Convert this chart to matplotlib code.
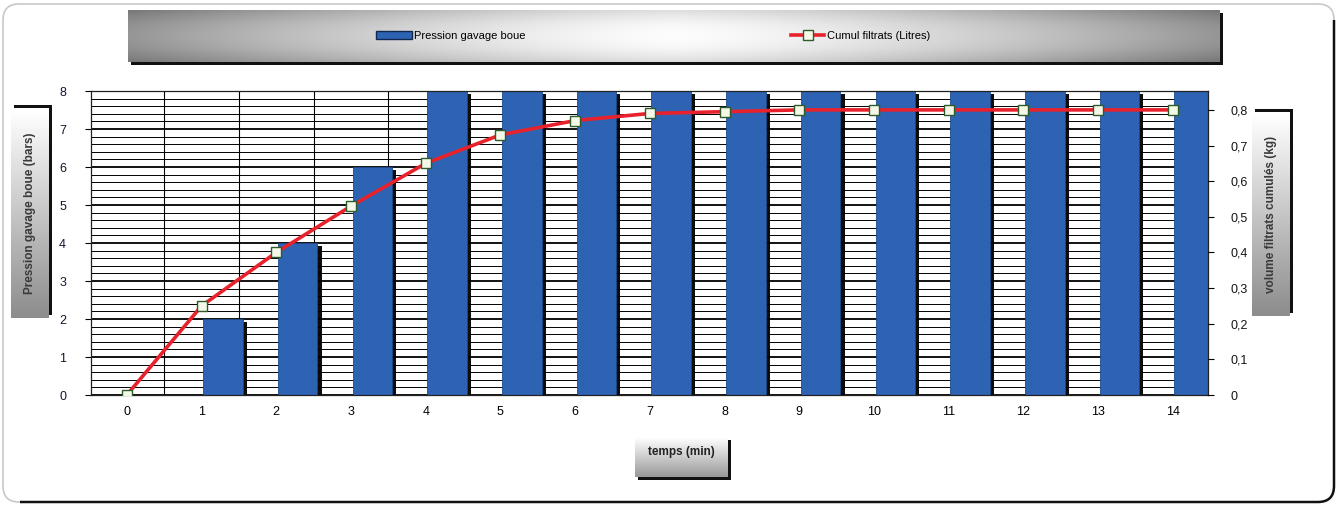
import numpy as np
import matplotlib
matplotlib.use('Agg')
import matplotlib.pyplot as plt
from matplotlib.patches import Rectangle, FancyBboxPatch, Polygon
from matplotlib.lines import Line2D
from matplotlib import patheffects as pe
from matplotlib.ticker import MultipleLocator, FuncFormatter

W, H = 1339, 505

temps = list(range(15))
pression = [0, 2, 4, 6, 8, 8, 8, 8, 8, 8, 8, 8, 8, 8, 8]
cumul = [0, 0.25, 0.40, 0.53, 0.65, 0.73, 0.77, 0.79, 0.795, 0.80,
         0.80, 0.80, 0.80, 0.80, 0.80]

BLUE = '#2e63b4'
RED = '#e8222c'

plt.rcParams['font.family'] = ['Liberation Sans', 'DejaVu Sans']

fig = plt.figure(figsize=(W / 100, H / 100), dpi=100)


def px_rect(x0, y0, x1, y1):
    # pixel box (top-left origin) -> figure fraction
    return [x0 / W, 1 - y1 / H, (x1 - x0) / W, (y1 - y0) / H]


def grad_box(x0, y0, x1, y1, grad, shadow, z=1):
    # shadow first
    dx, dy = shadow
    sh = fig.add_axes(px_rect(x0 + dx, y0 + dy, x1 + dx, y1 + dy), zorder=z)
    sh.set_facecolor('#111111')
    sh.set_xticks([]); sh.set_yticks([])
    for s in sh.spines.values():
        s.set_visible(False)
    b = fig.add_axes(px_rect(x0, y0, x1, y1), zorder=z + 0.1)
    b.imshow(grad, cmap='gray', vmin=0, vmax=1, aspect='auto',
             interpolation='bicubic', extent=[0, 1, 0, 1])
    b.set_xlim(0, 1); b.set_ylim(0, 1)
    b.axis('off')
    return b


# outer rounded frame: faint all round, dark on the right and bottom
box_args = dict(boxstyle='round,pad=0,rounding_size=0.16',
                transform=fig.dpi_scale_trans, fill=False)
frame = FancyBboxPatch((3 / 100, 3 / 100), (W - 8) / 100, (H - 7) / 100,
                       edgecolor='#c8c8c8', linewidth=1.2, **box_args)
fig.patches.append(frame)
frame2 = FancyBboxPatch((3 / 100, 3 / 100), (W - 8) / 100, (H - 7) / 100,
                        edgecolor='#111111', linewidth=1.8, **box_args)
clip = Polygon([(0, 0), (W / 100, 0), (W / 100, (H - 20) / 100),
                ((W - 12) / 100, (H - 20) / 100), ((W - 12) / 100, 0.12),
                (0.2, 0.12), (0.2, 0)], transform=fig.dpi_scale_trans)
frame2.set_clip_path(clip)
fig.patches.append(frame2)

# legend bar
gx = np.linspace(-1, 1, 200)
gy = np.linspace(-1, 1, 40)
GX, GY = np.meshgrid(gx, gy)
leg_grad = 0.99 - 0.40 * np.abs(GX) ** 1.4 - 0.12 * np.abs(GY) ** 2
grad_box(128, 10, 1220, 62, leg_grad, (3, 3), z=1)

# axis title boxes
vgrad = np.linspace(1.0, 0.55, 60)[:, None] * np.ones((1, 10))
hgrad = np.linspace(1.0, 0.6, 40)[:, None] * np.ones((1, 30))
bl = grad_box(11, 108, 49, 318, vgrad, (3, -3), z=1)
bl.text(0.5, 0.5, 'Pression gavage boue (bars)', rotation=90, ha='center',
        va='center', fontsize=8.5, fontweight='bold', color='#3a3a3a')
br = grad_box(1252, 112, 1290, 316, vgrad, (3, -3), z=1)
br.text(0.5, 0.5, 'volume filtrats cumulés (kg)', rotation=90, ha='center',
        va='center', fontsize=8.5, fontweight='bold', color='#3a3a3a')
bx = grad_box(635, 437, 728, 477, hgrad, (3, 3), z=1)
bx.text(0.5, 0.62, 'temps (min)', ha='center', va='center', fontsize=8.5,
        fontweight='bold', color='#222222')

# main chart
ax = fig.add_axes(px_rect(91, 91, 1208, 395), zorder=3)
ax.set_xlim(-0.48, 14.47)
ax.set_ylim(0, 8)
ax.yaxis.set_major_locator(MultipleLocator(1))
ax.yaxis.set_minor_locator(MultipleLocator(0.2))
ax.grid(which='major', axis='y', color='black', linewidth=1.3, zorder=0)
ax.grid(which='minor', axis='y', color='black', linewidth=0.7, zorder=0)
for k in range(15):
    ax.axvline(k + 0.5, color='black', linewidth=0.8, zorder=0)
ax.set_axisbelow(True)

bars = ax.bar(np.array(temps) + 0.02, pression, width=0.53, align='edge',
              color=BLUE, edgecolor='#1e4a8c', linewidth=0.6, zorder=2,
              label='Pression gavage boue')
for b in bars:
    b.set_path_effects([pe.SimplePatchShadow(offset=(3, -2),
                                             shadow_rgbFace='black', alpha=0.95),
                        pe.Normal()])

ax.set_xticks(temps)
ax.tick_params(axis='x', length=0, pad=8, labelsize=9)
ax.tick_params(axis='y', which='major', direction='out', length=4,
               labelsize=9, labelcolor='#141432', pad=14)
ax.tick_params(axis='y', which='minor', length=0)
for s in ax.spines.values():
    s.set_color('#222222')
    s.set_linewidth(0.9)

ax2 = ax.twinx()
ax2.set_ylim(0, 0.853)
ax2.yaxis.set_major_locator(MultipleLocator(0.1))
ax2.yaxis.set_major_formatter(FuncFormatter(
    lambda v, p: '0' if abs(v) < 1e-9 else ('%.1f' % v).replace('.', ',')))
ax2.tick_params(axis='y', direction='out', length=4, labelsize=9,
                labelcolor='#141414', pad=12)
line, = ax2.plot(temps, cumul, color=RED, linewidth=2.6, marker='s',
                 markersize=6.5, markerfacecolor='#f4f8e6',
                 markeredgecolor='#2f5a2a', markeredgewidth=1.0,
                 solid_capstyle='round', zorder=5,
                 label='Cumul filtrats (Litres)')
for s in ax2.spines.values():
    s.set_visible(False)

# legend entries placed in the grey bar
bar_handle = Rectangle((0, 0), 1, 1, facecolor=BLUE, edgecolor='#10284f',
                       linewidth=1.0)
line_handle = Line2D([], [], color=RED, linewidth=2.6, marker='s',
                     markersize=6.5, markerfacecolor='#f4f8e6',
                     markeredgecolor='#2f5a2a')
l1 = fig.legend([bar_handle], ['Pression gavage boue'], loc='center left',
                bbox_to_anchor=(376 / W, 1 - 36 / H), frameon=False,
                fontsize=8, handlelength=3.2, handleheight=0.7,
                handletextpad=0.2, borderpad=0, borderaxespad=0)
l2 = fig.legend([line_handle], ['Cumul filtrats (Litres)'], loc='center left',
                bbox_to_anchor=(791 / W, 1 - 36 / H), frameon=False,
                fontsize=8, handlelength=3.0, handletextpad=0.2,
                borderpad=0, borderaxespad=0)
l1.set_zorder(10)
l2.set_zorder(10)

fig.savefig('out.png', dpi=100)
